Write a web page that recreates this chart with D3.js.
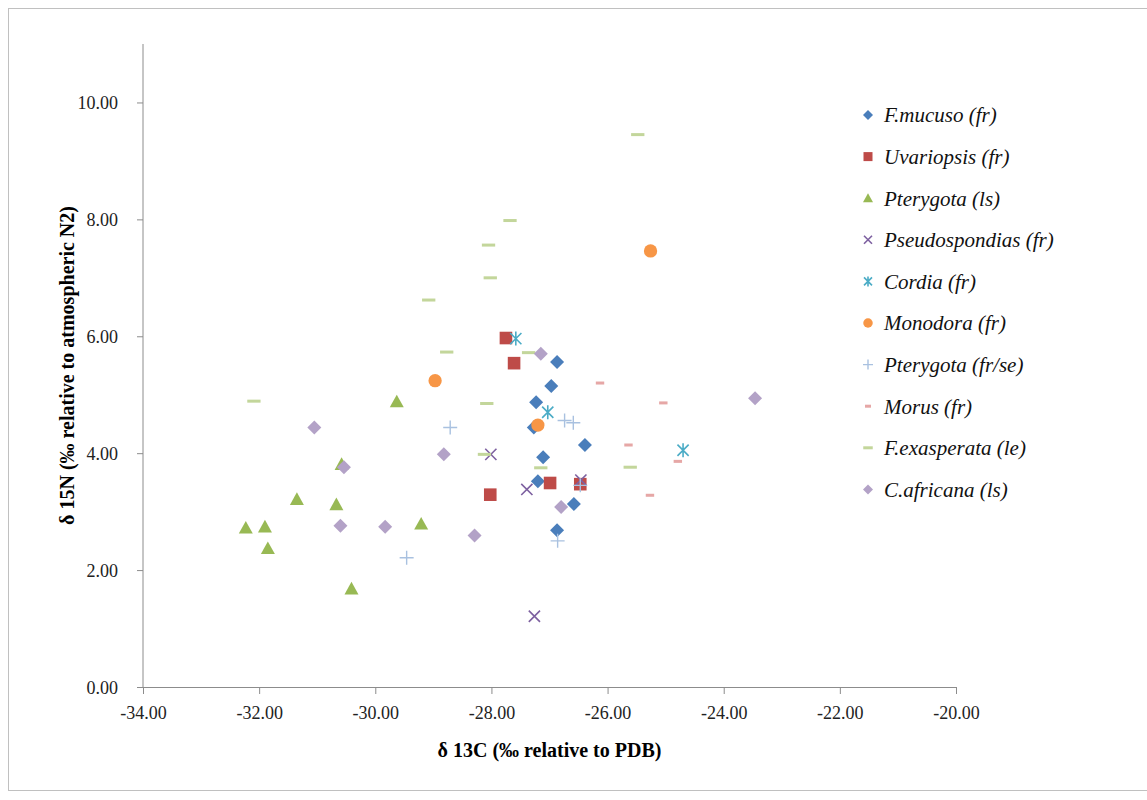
<!DOCTYPE html>
<html>
<head>
<meta charset="utf-8">
<script src="https://cdn.jsdelivr.net/npm/d3@7"></script>
<style>
  body { margin: 0; background: #fff; }
  svg, svg text { font-family: "Liberation Serif", "Times New Roman", Times, "DejaVu Serif", serif !important; }
</style>
</head>
<body>
<script>
// series names as in the legend
const seriesNames = ["F.mucuso (fr)", "Uvariopsis (fr)", "Pterygota (ls)", "Pseudospondias (fr)",
  "Cordia (fr)", "Monodora (fr)", "Pterygota (fr/se)", "Morus (fr)", "F.exasperata (le)", "C.africana (ls)"];

// d13C / d15N values, one pair of lists per series
const mucusoX = [-26.87, -26.97, -27.23, -27.27, -26.39, -27.11, -27.20, -26.58, -26.87];
const mucusoY = [5.56, 5.15, 4.87, 4.44, 4.14, 3.93, 3.52, 3.13, 2.68];
const uvariopsisX = [-27.75, -27.61, -26.99, -26.47, -28.02];
const uvariopsisY = [5.97, 5.54, 3.49, 3.47, 3.29];
const pterygotaLsX = [-29.63, -30.58, -31.35, -30.67, -32.23, -31.90, -31.85, -29.21, -30.41];
const pterygotaLsY = [4.88, 3.81, 3.21, 3.12, 2.72, 2.74, 2.37, 2.79, 1.68];
const pseudoX = [-28.01, -27.39, -26.46, -27.26];
const pseudoY = [3.98, 3.38, 3.54, 1.21];
const cordiaX = [-27.58, -27.03, -24.70];
const cordiaY = [5.96, 4.70, 4.05];
const monodoraX = [-28.97, -27.20, -25.26];
const monodoraY = [5.24, 4.48, 7.46];
const pterygotaFrX = [-28.71, -29.46, -26.74, -26.59, -26.47, -26.86];
const pterygotaFrY = [4.44, 2.21, 4.56, 4.52, 3.45, 2.50];
const morusX = [-26.13, -25.04, -25.64, -24.79, -25.27];
const morusY = [5.20, 4.86, 4.14, 3.86, 3.28];
const exasperataX = [-32.09, -29.08, -28.77, -27.68, -28.05, -28.02, -25.48, -27.36, -28.08, -28.12, -27.15, -25.61];
const exasperataY = [4.89, 6.62, 5.73, 7.98, 7.56, 7.00, 9.45, 5.72, 4.85, 3.98, 3.75, 3.76];
const africanaX = [-31.05, -30.54, -28.82, -30.60, -29.83, -27.15, -26.80, -28.29, -23.46];
const africanaY = [4.44, 3.76, 3.98, 2.76, 2.74, 5.70, 3.08, 2.59, 4.94];

const xTicks = [-34, -32, -30, -28, -26, -24, -22, -20];
const yTicks = [0, 2, 4, 6, 8, 10];

const seriesX = [mucusoX, uvariopsisX, pterygotaLsX, pseudoX, cordiaX, monodoraX, pterygotaFrX, morusX, exasperataX, africanaX];
const seriesY = [mucusoY, uvariopsisY, pterygotaLsY, pseudoY, cordiaY, monodoraY, pterygotaFrY, morusY, exasperataY, africanaY];

const colors = ["#4a7ebb", "#be4b48", "#98b954", "#7d60a0", "#4bacc6", "#f79646", "#a9c1e0", "#e6a7a6", "#c3d69b", "#b3a2c7"];
const shapes = ["diamond", "square", "triangle", "x", "star", "circle", "plus", "dashS", "dashL", "diamond"];

const serif = "'Liberation Serif', 'Times New Roman', Times, 'DejaVu Serif', serif";
const width = 1147, height = 800;
const margin = {left: 143, right: 191, top: 44, bottom: 113};

const svg = d3.select("body").append("svg")
  .attr("width", width)
  .attr("height", height)
  .attr("font-family", serif);

// outer frame
svg.append("rect")
  .attr("x", 8.5).attr("y", 8.5)
  .attr("width", 1145).attr("height", 782)
  .attr("fill", "none").attr("stroke", "#c0c0c0");

let x = d3.scaleLinear().domain([-34, -20]).range([margin.left, width - margin.right]);
let y = d3.scaleLinear().domain([0, 11]).range([height - margin.bottom, margin.top]);

// axes (plain hyphen for negatives, like the original)
const fmt = d => d.toFixed(2);
let xAxis = svg.append("g")
  .attr("transform", `translate(0,${y(0)})`)
  .call(d3.axisBottom(x).tickValues(xTicks).tickFormat(fmt).tickSize(7).tickSizeOuter(0));
let yAxis = svg.append("g")
  .attr("transform", `translate(${x(-34)},0)`)
  .call(d3.axisLeft(y).tickValues(yTicks).tickFormat(fmt).tickSize(6).tickSizeOuter(0));

[xAxis, yAxis].forEach(g => {
  g.attr("font-family", serif);
  g.selectAll("path, line").attr("stroke", "#8c8c8c");
  g.selectAll("text").attr("font-size", 18).attr("fill", "#222");
});
xAxis.selectAll("text").attr("dy", "1.2em");
yAxis.selectAll("text").attr("x", -25).attr("dy", "0.35em");
// axis line reaches the top of the plot
yAxis.select("path.domain").attr("d", `M0,${y(11)}V${y(0)}`);

// axis titles
svg.append("text")
  .attr("x", (x(-34) + x(-20)) / 2).attr("y", 757)
  .attr("text-anchor", "middle")
  .attr("font-size", 20).attr("font-weight", "bold")
  .text("δ 13C (‰  relative to PDB)");
svg.append("text")
  .attr("transform", `translate(74,${(y(0) + y(11)) / 2}) rotate(-90)`)
  .attr("text-anchor", "middle")
  .attr("font-size", 20).attr("font-weight", "bold")
  .text("δ 15N (‰ relative to atmospheric N2)");

// marker drawing
function marker(g, shape, color, s) {
  const h = s / 2;
  if (shape === "diamond") {
    g.append("path").attr("d", `M0,${-h}L${h},0L0,${h}L${-h},0Z`).attr("fill", color);
  } else if (shape === "square") {
    g.append("rect").attr("x", -h * 0.9).attr("y", -h * 0.9).attr("width", s * 0.9).attr("height", s * 0.9).attr("fill", color);
  } else if (shape === "triangle") {
    g.append("path").attr("d", `M0,${-h}L${h},${h * 0.8}L${-h},${h * 0.8}Z`).attr("fill", color);
  } else if (shape === "circle") {
    g.append("circle").attr("r", h * 0.95).attr("fill", color);
  } else if (shape === "x") {
    const k = h * 0.8;
    g.append("path").attr("d", `M${-k},${-k}L${k},${k}M${k},${-k}L${-k},${k}`)
      .attr("stroke", color).attr("stroke-width", 1.6).attr("fill", "none");
  } else if (shape === "star") {
    const k = h * 0.8;
    g.append("path").attr("d", `M${-k},${-k}L${k},${k}M${k},${-k}L${-k},${k}M0,${-h}L0,${h}`)
      .attr("stroke", color).attr("stroke-width", 1.6).attr("fill", "none");
  } else if (shape === "plus") {
    g.append("path").attr("d", `M${-h},0L${h},0M0,${-h}L0,${h}`)
      .attr("stroke", color).attr("stroke-width", 1.4).attr("fill", "none");
  } else if (shape === "dashS") {
    g.append("rect").attr("x", -h * 0.6).attr("y", -1.5).attr("width", s * 0.6).attr("height", 3).attr("fill", color);
  } else if (shape === "dashL") {
    g.append("rect").attr("x", -h * 0.95).attr("y", -1.5).attr("width", s * 0.95).attr("height", 3).attr("fill", color);
  }
}

// points
seriesNames.forEach((name, i) => {
  const pts = seriesX[i].map((v, j) => [v, seriesY[i][j]]);
  svg.append("g").selectAll("g")
    .data(pts)
    .join("g")
    .attr("transform", d => `translate(${x(d[0])},${y(d[1])})`)
    .each(function () { marker(d3.select(this), shapes[i], colors[i], 14); });
});

// legend
const legend = svg.append("g");
seriesNames.forEach((name, i) => {
  const ly = 115 + i * 41.6;
  const g = legend.append("g").attr("transform", `translate(868,${ly})`);
  marker(g, shapes[i], colors[i], 10);
  legend.append("text")
    .attr("x", 884).attr("y", ly).attr("dy", "0.35em")
    .attr("font-size", 21).attr("font-style", "italic").attr("fill", "#111")
    .text(name);
});
</script>
</body>
</html>
